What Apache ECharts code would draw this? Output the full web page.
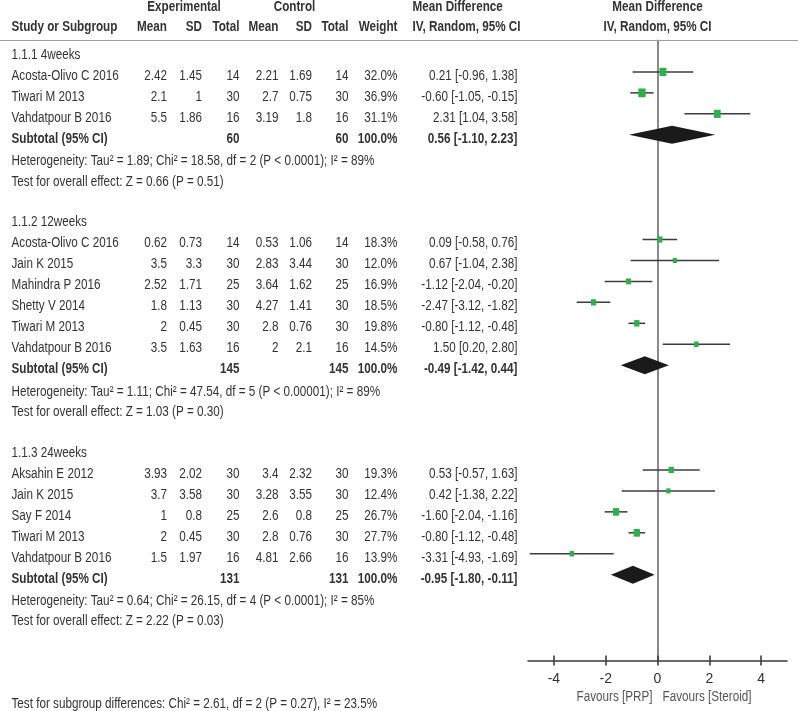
<!DOCTYPE html>
<html><head><meta charset="utf-8">
<script src="https://cdn.jsdelivr.net/npm/echarts@6/dist/echarts.min.js"></script>
<style>html,body{margin:0;padding:0;background:#fff}#c{width:800px;height:711px}</style>
</head><body><div id="c"></div>
<script>
// ---------------- data ----------------
const groupTitles = ['1.1.1 4weeks', '1.1.2 12weeks', '1.1.3 24weeks'];
const studyNames = ['Acosta-Olivo C 2016', 'Tiwari M 2013', 'Vahdatpour B 2016',
  'Acosta-Olivo C 2016', 'Jain K 2015', 'Mahindra P 2016', 'Shetty V 2014', 'Tiwari M 2013', 'Vahdatpour B 2016',
  'Aksahin E 2012', 'Jain K 2015', 'Say F 2014', 'Tiwari M 2013', 'Vahdatpour B 2016'];
const studyGroup = [0, 0, 0, 1, 1, 1, 1, 1, 1, 2, 2, 2, 2, 2];
const expMean = [2.42, 2.1, 5.5, 0.62, 3.5, 2.52, 1.8, 2, 3.5, 3.93, 3.7, 1, 2, 1.5];
const expSD = [1.45, 1, 1.86, 0.73, 3.3, 1.71, 1.13, 0.45, 1.63, 2.02, 3.58, 0.8, 0.45, 1.97];
const expTotal = [14, 30, 16, 14, 30, 25, 30, 30, 16, 30, 30, 25, 30, 16];
const ctlMean = [2.21, 2.7, 3.19, 0.53, 2.83, 3.64, 4.27, 2.8, 2, 3.4, 3.28, 2.6, 2.8, 4.81];
const ctlSD = [1.69, 0.75, 1.8, 1.06, 3.44, 1.62, 1.41, 0.76, 2.1, 2.32, 3.55, 0.8, 0.76, 2.66];
const ctlTotal = [14, 30, 16, 14, 30, 25, 30, 30, 16, 30, 30, 25, 30, 16];
const weight = [32.0, 36.9, 31.1, 18.3, 12.0, 16.9, 18.5, 19.8, 14.5, 19.3, 12.4, 26.7, 27.7, 13.9];
const meanDiff = [0.21, -0.60, 2.31, 0.09, 0.67, -1.12, -2.47, -0.80, 1.50, 0.53, 0.42, -1.60, -0.80, -3.31];
const ciLow = [-0.96, -1.05, 1.04, -0.58, -1.04, -2.04, -3.12, -1.12, 0.20, -0.57, -1.38, -2.04, -1.12, -4.93];
const ciHigh = [1.38, -0.15, 3.58, 0.76, 2.38, -0.20, -1.82, -0.48, 2.80, 1.63, 2.22, -1.16, -0.48, -1.69];
const subExpTotal = [60, 145, 131];
const subCtlTotal = [60, 145, 131];
const subWeight = [100.0, 100.0, 100.0];
const subMeanDiff = [0.56, -0.49, -0.95];
const subLow = [-1.10, -1.42, -1.80];
const subHigh = [2.23, 0.44, -0.11];
const heterogeneity = [
  'Heterogeneity: Tau² = 1.89; Chi² = 18.58, df = 2 (P < 0.0001); I² = 89%',
  'Heterogeneity: Tau² = 1.11; Chi² = 47.54, df = 5 (P < 0.00001); I² = 89%',
  'Heterogeneity: Tau² = 0.64; Chi² = 26.15, df = 4 (P < 0.0001); I² = 85%'];
const overallEffect = [
  'Test for overall effect: Z = 0.66 (P = 0.51)',
  'Test for overall effect: Z = 1.03 (P = 0.30)',
  'Test for overall effect: Z = 2.22 (P = 0.03)'];
const subgroupTest = 'Test for subgroup differences: Chi² = 2.61, df = 2 (P = 0.27), I² = 23.5%';
const tickValues = [-4, -2, 0, 2, 4];
const favoursLeft = 'Favours [PRP]';
const favoursRight = 'Favours [Steroid]';

// ---------------- layout ----------------
const FONT = '"Liberation Sans", Arial, Helvetica, sans-serif';
const SX = 0.835; // narrow font emulation
const TXT = '#333333';
const COL = { name: 11.5, expMean: 167, expSD: 202, expTotal: 239.5, ctlMean: 278.5, ctlSD: 312,
  ctlTotal: 348.5, weight: 397.5, ci: 517.5, mdLeft: 412.5, expCenter: 184, ctlCenter: 294.5 };
const TXT_DY = 4;
const Y_MIN = -0.5, Y_MAX = 29.1;

// build row indices
const rowOfStudy = [];
const tableRows = [];
let k = 0;
tableRows.push({ kind: 'header', k: Y_MIN });
for (let g = 0; g < groupTitles.length; g++) {
  tableRows.push({ kind: 'group', k: k, g: g }); k++;
  studyNames.forEach((n, i) => {
    if (studyGroup[i] === g) { rowOfStudy[i] = k; tableRows.push({ kind: 'study', k: k, i: i }); k++; }
  });
  tableRows.push({ kind: 'subtotal', k: k, g: g }); k++;
  tableRows.push({ kind: 'het', k: k, g: g }); k++;
  tableRows.push({ kind: 'overall', k: k, g: g }); k++;
  k++;
}
tableRows.push({ kind: 'footer', k: Y_MAX });
const subRow = groupTitles.map((_, g) => tableRows.find(r => r.kind === 'subtotal' && r.g === g).k);

function fmtCI(m, l, h) { return m.toFixed(2) + ' [' + l.toFixed(2) + ', ' + h.toFixed(2) + ']'; }
function txt(text, x, y, align, bold, color) {
  return { type: 'text', x: x, y: y, scaleX: SX,
    style: { text: String(text), x: 0, y: 0, align: align || 'left', verticalAlign: 'middle',
      font: (bold ? 'bold ' : '') + '14px ' + FONT, fill: color || TXT } };
}

function renderTable(params, api) {
  const r = tableRows[params.dataIndex];
  const zeroX = api.coord([0, 0])[0];
  const y0 = api.coord([0, r.k])[1];
  const y = y0 + TXT_DY;
  const ch = [];
  if (r.kind === 'header') {
    ch.push({ type: 'line', shape: { x1: 0, y1: y0, x2: 798, y2: y0 }, style: { stroke: '#a0a0a0', lineWidth: 1.2 } });
    const h1 = y0 - 33, h2 = y0 - 13.5;
    ch.push(txt('Experimental', COL.expCenter, h1, 'center', true));
    ch.push(txt('Control', COL.ctlCenter, h1, 'center', true));
    ch.push(txt('Mean Difference', COL.mdLeft, h1, 'left', true));
    ch.push(txt('Mean Difference', zeroX, h1, 'center', true));
    ch.push(txt('Study or Subgroup', COL.name, h2, 'left', true));
    ch.push(txt('Mean', COL.expMean, h2, 'right', true));
    ch.push(txt('SD', COL.expSD, h2, 'right', true));
    ch.push(txt('Total', COL.expTotal, h2, 'right', true));
    ch.push(txt('Mean', COL.ctlMean, h2, 'right', true));
    ch.push(txt('SD', COL.ctlSD, h2, 'right', true));
    ch.push(txt('Total', COL.ctlTotal, h2, 'right', true));
    ch.push(txt('Weight', COL.weight, h2, 'right', true));
    ch.push(txt('IV, Random, 95% CI', COL.mdLeft, h2, 'left', true));
    ch.push(txt('IV, Random, 95% CI', zeroX, h2, 'center', true));
  } else if (r.kind === 'group') {
    ch.push(txt(groupTitles[r.g], COL.name, y, 'left', false));
  } else if (r.kind === 'study') {
    const i = r.i;
    ch.push(txt(studyNames[i], COL.name, y, 'left'));
    ch.push(txt(expMean[i], COL.expMean, y, 'right'));
    ch.push(txt(expSD[i], COL.expSD, y, 'right'));
    ch.push(txt(expTotal[i], COL.expTotal, y, 'right'));
    ch.push(txt(ctlMean[i], COL.ctlMean, y, 'right'));
    ch.push(txt(ctlSD[i], COL.ctlSD, y, 'right'));
    ch.push(txt(ctlTotal[i], COL.ctlTotal, y, 'right'));
    ch.push(txt(weight[i].toFixed(1) + '%', COL.weight, y, 'right'));
    ch.push(txt(fmtCI(meanDiff[i], ciLow[i], ciHigh[i]), COL.ci, y, 'right'));
  } else if (r.kind === 'subtotal') {
    const g = r.g;
    ch.push(txt('Subtotal (95% CI)', COL.name, y, 'left', true));
    ch.push(txt(subExpTotal[g], COL.expTotal, y, 'right', true));
    ch.push(txt(subCtlTotal[g], COL.ctlTotal, y, 'right', true));
    ch.push(txt(subWeight[g].toFixed(1) + '%', COL.weight, y, 'right', true));
    ch.push(txt(fmtCI(subMeanDiff[g], subLow[g], subHigh[g]), COL.ci, y, 'right', true));
  } else if (r.kind === 'het') {
    ch.push(txt(heterogeneity[r.g], COL.name, y + 1.5, 'left'));
  } else if (r.kind === 'overall') {
    ch.push(txt(overallEffect[r.g], COL.name, y + 1, 'left'));
  } else if (r.kind === 'footer') {
    ch.push(txt(favoursLeft, zeroX - 5, y0 + 37, 'right', false, '#555'));
    ch.push(txt(favoursRight, zeroX + 5, y0 + 37, 'left', false, '#555'));
    ch.push(txt(subgroupTest, COL.name, y0 + 43.5, 'left'));
  }
  return { type: 'group', children: ch };
}

const studyPoints = meanDiff.map((m, i) => [m, rowOfStudy[i], weight[i]]);
const ciData = meanDiff.map((m, i) => [ciLow[i], ciHigh[i], rowOfStudy[i]]);
const diamondData = subMeanDiff.map((m, g) => [subLow[g], m, subHigh[g], subRow[g]]);

const chart = echarts.init(document.getElementById('c'), null, { renderer: 'canvas' });
const axisCommon = { type: 'value', min: -5, max: 5, position: 'bottom', splitLine: { show: false } };
chart.setOption({
  animation: false,
  backgroundColor: '#fff',
  grid: { left: 528, right: 13, top: 40.5, bottom: 50.4, containLabel: false },
  xAxis: [
    Object.assign({}, axisCommon, {
      axisLine: { show: true, onZero: false, lineStyle: { color: '#3a3a3a', width: 1.6 } },
      axisTick: { show: true, customValues: tickValues, length: 5, lineStyle: { color: '#3a3a3a', width: 1.6 } },
      axisLabel: { show: true, customValues: tickValues, margin: 12, color: '#333', fontSize: 14, fontFamily: FONT }
    }),
    Object.assign({}, axisCommon, {
      axisLine: { show: false, onZero: false },
      axisTick: { show: true, inside: true, customValues: tickValues, length: 5, lineStyle: { color: '#3a3a3a', width: 1.6 } },
      axisLabel: { show: false }
    })
  ],
  yAxis: {
    type: 'value', inverse: true, min: Y_MIN, max: Y_MAX,
    axisLine: { show: true, onZero: true, lineStyle: { color: '#8a8a8a', width: 2 } },
    axisTick: { show: false }, axisLabel: { show: false }, splitLine: { show: false }
  },
  series: [
    {
      type: 'custom', name: 'table', data: tableRows.map(r => [0, r.k]), renderItem: renderTable, silent: true, z: 1
    },
    {
      type: 'custom', name: 'CI', data: ciData, z: 3,
      renderItem: function (params, api) {
        const a = api.coord([api.value(0), api.value(2)]);
        const b = api.coord([api.value(1), api.value(2)]);
        return { type: 'line', shape: { x1: a[0], y1: a[1], x2: b[0], y2: b[1] }, style: { stroke: '#3c3c3c', lineWidth: 1.5 } };
      }
    },
    {
      type: 'scatter', name: 'Study', data: studyPoints, symbol: 'rect', z: 4,
      symbolSize: function (v) { const s = Math.sqrt(v[2]); return [1.2 * s, 1.45 * s]; },
      itemStyle: { color: '#2bb04a', opacity: 1 }
    },
    {
      type: 'custom', name: 'Subtotal', data: diamondData, z: 4,
      renderItem: function (params, api) {
        const l = api.coord([api.value(0), api.value(3)]);
        const m = api.coord([api.value(1), api.value(3)]);
        const h = api.coord([api.value(2), api.value(3)]);
        return { type: 'polygon', shape: { points: [[l[0], l[1]], [m[0], m[1] - 9], [h[0], h[1]], [m[0], m[1] + 9]] },
          style: { fill: '#1a1a1a' } };
      }
    }
  ]
});
</script></body></html>
